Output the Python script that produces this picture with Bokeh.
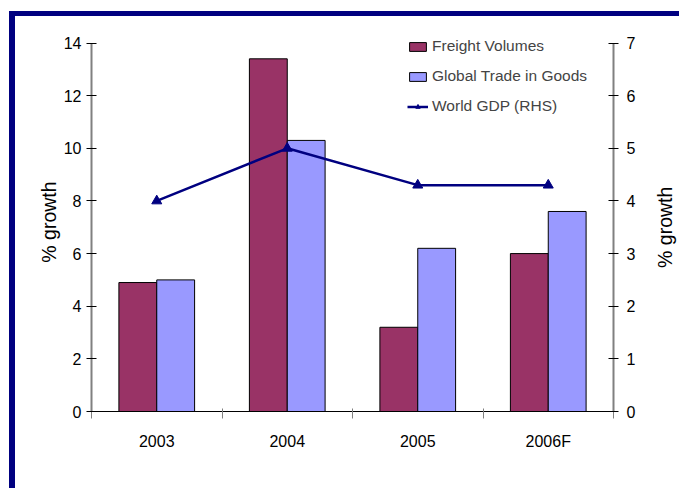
import math
from bokeh.plotting import figure
from bokeh.layouts import row
from bokeh.models import (Range1d, LinearAxis, FixedTicker, ColumnDataSource,
                          Legend, LegendItem)
from bokeh.core.properties import value
from bokeh.transform import dodge
from bokeh.embed import file_html
from bokeh.resources import INLINE

categories = ["2003", "2004", "2005", "2006F"]
freight_volumes = [4.9, 13.4, 3.2, 6.0]
global_trade = [5.0, 10.3, 6.2, 7.6]
world_gdp = [4.0, 5.0, 4.3, 4.3]
left_ticks = [0, 2, 4, 6, 8, 10, 12, 14]
right_ticks = [0, 1, 2, 3, 4, 5, 6, 7]

FONT = "Liberation Sans"
NAVY = "#000080"
BAR_W = 0.29
N = len(categories)

centers = [i + 0.5 for i in range(N)]
src = ColumnDataSource(dict(x=centers, freight=freight_volumes,
                            trade=global_trade, gdp=world_gdp))

p = figure(width=625, height=472, output_backend="svg", toolbar_location=None,
           x_range=Range1d(0, N), y_range=Range1d(0, 14.4),
           min_border_left=76, min_border_right=27, min_border_top=16,
           min_border_bottom=77, outline_line_color=None)
p.extra_y_ranges = {"rhs": Range1d(0, 7.2)}
p.xgrid.visible = False
p.ygrid.visible = False

r_f = p.vbar(x=dodge("x", -BAR_W / 2), top="freight", width=BAR_W, source=src,
             fill_color="#993366", line_color="black", line_width=1)
r_t = p.vbar(x=dodge("x", BAR_W / 2), top="trade", width=BAR_W, source=src,
             fill_color="#9999FF", line_color="black", line_width=1)
r_l = p.line(x="x", y="gdp", source=src, y_range_name="rhs",
             line_color=NAVY, line_width=2.5)
r_m = p.scatter(x="x", y="gdp", source=src, y_range_name="rhs",
                marker="triangle", size=10, fill_color=NAVY, line_color=NAVY)

# x axis
xa = p.xaxis[0]
xa.ticker = FixedTicker(ticks=centers, minor_ticks=list(range(N + 1)))
xa.major_label_overrides = {c: lab for c, lab in zip(centers, categories)}
xa.major_tick_in = 0
xa.major_tick_out = 0
xa.minor_tick_in = 3
xa.minor_tick_out = 7
xa.minor_tick_line_color = "#808080"
xa.axis_line_color = "black"
xa.major_label_standoff = 14
xa.major_label_text_font = FONT
xa.major_label_text_font_size = "16px"
xa.major_label_text_color = "black"

def style_y(ax, standoff, top):
    ax.bounds = (0, top)
    ax.axis_line_color = "#808080"
    ax.axis_line_width = 2
    ax.major_tick_in = 5
    ax.major_tick_out = 5
    ax.major_tick_line_color = "black"
    ax.minor_tick_line_color = None
    ax.major_label_standoff = standoff
    ax.major_label_text_font = FONT
    ax.major_label_text_font_size = "16px"
    ax.major_label_text_color = "black"

ya = p.yaxis[0]
ya.ticker = FixedTicker(ticks=left_ticks)
style_y(ya, 5, left_ticks[-1])
ya.axis_label = "% growth"
ya.axis_label_text_font = FONT
ya.axis_label_text_font_size = "19.5px"
ya.axis_label_text_font_style = "normal"
ya.axis_label_text_color = "black"
ya.axis_label_standoff = 1

yr = LinearAxis(y_range_name="rhs", ticker=FixedTicker(ticks=right_ticks))
style_y(yr, 8, right_ticks[-1])
p.add_layout(yr, "right")

legend = Legend(items=[
    LegendItem(label="Freight Volumes", renderers=[r_f]),
    LegendItem(label="Global Trade in Goods", renderers=[r_t]),
    LegendItem(label="World GDP (RHS)", renderers=[r_l, r_m]),
], location=(316, 295), padding=0, margin=0, spacing=10,
    glyph_width=21, glyph_height=11, label_height=20, label_standoff=4,
    border_line_color=None, background_fill_alpha=0,
    label_text_font=FONT, label_text_font_size="15.5px")
p.add_layout(legend, "center")

# narrow strip on the right carrying the RHS axis title, reading upwards
q = figure(width=39, height=472, output_backend="svg", toolbar_location=None,
           x_range=Range1d(0, 39), y_range=Range1d(0, 7.2),
           min_border_left=0, min_border_right=0, min_border_top=16,
           min_border_bottom=77, outline_line_color=None,
           x_axis_location=None, y_axis_location=None)
q.xgrid.visible = False
q.ygrid.visible = False
q.text(x=[24], y=[right_ticks[-1] / 2], text=["% growth"],
       angle=math.pi / 2, text_align="center", text_baseline="middle",
       text_font=value(FONT), text_font_size="19.5px", text_color="black")

layout = row(p, q, spacing=0,
             styles={"margin-left": "9px", "margin-top": "11px",
                     "border-top": "5px solid #000080",
                     "border-left": "6px solid #000080"})

open("out.html", "w").write(file_html(layout, INLINE))
